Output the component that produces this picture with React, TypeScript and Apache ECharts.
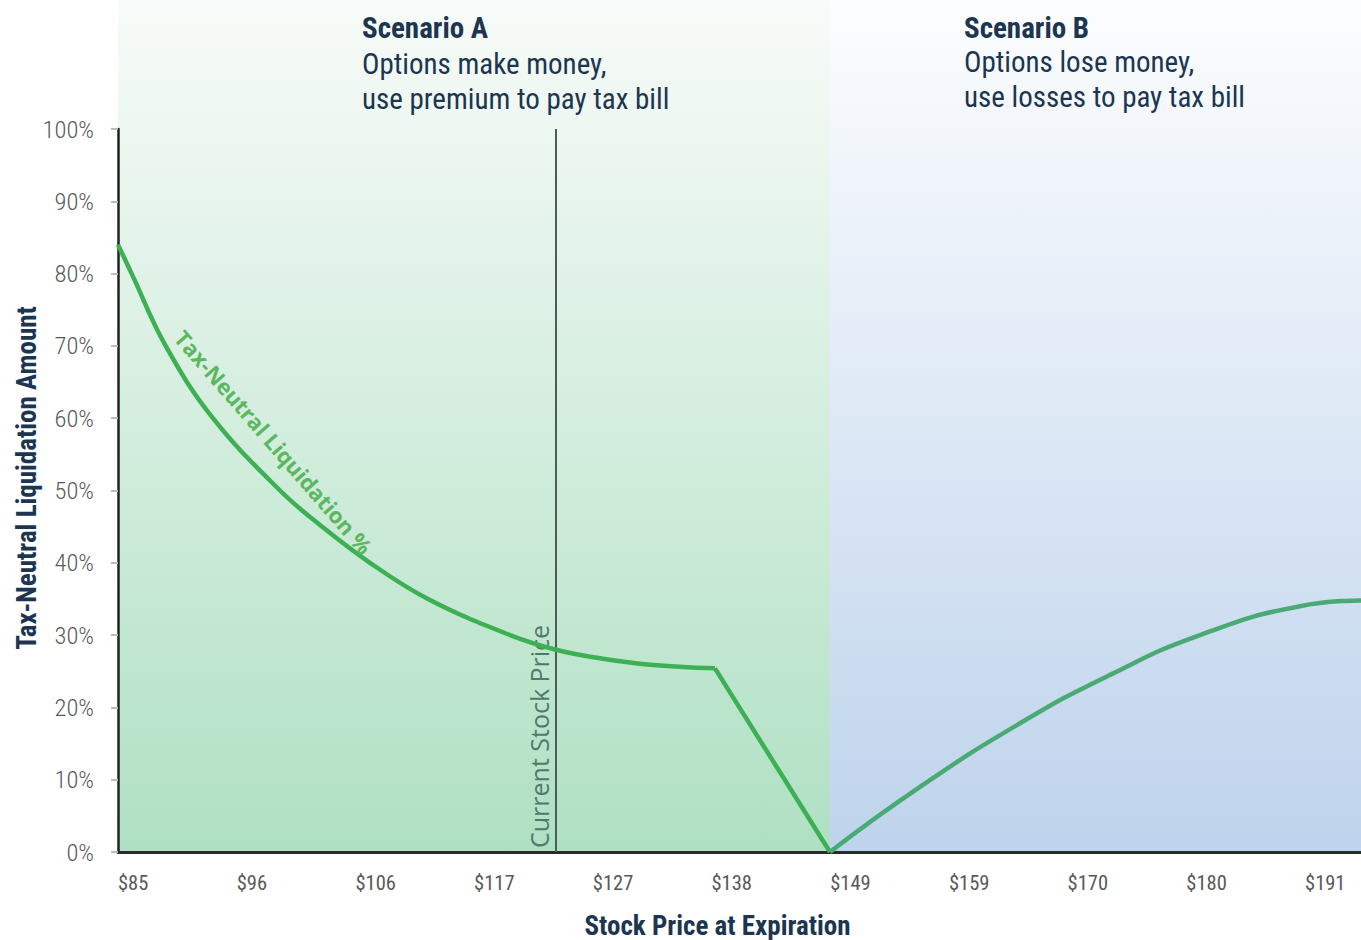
import React, { useEffect, useRef } from "react";
import * as echarts from "echarts";

// ---- data ----
const BASE_PRICE = 85;
const TICK_STEP = 10.6;
const MAX_PRICE = 196;
const xTickLabels = ["$85", "$96", "$106", "$117", "$127", "$138", "$149", "$159", "$170", "$180", "$191"];
const yTickValues = [0, 10, 20, 30, 40, 50, 60, 70, 80, 90, 100];

// Scenario A: curve (price, tax-neutral liquidation %)
const leftPrices = [85.0, 86.22, 89.26, 93.48, 99.47, 103.22, 107.5, 112.68, 120.01, 124.29, 128.04, 132.51, 138.31];
const leftValues = [84.0, 80.0, 70.0, 60.0, 50.0, 45.0, 40.0, 35.0, 30.0, 27.9, 26.8, 25.9, 25.4];
// drop segment
const dropPrices = [138.31, 148.58];
const dropValues = [25.4, 0];
// Scenario B: curve
const rightPrices = [148.58, 156.62, 165.55, 173.59, 181.62, 190.55, 196.0];
const rightValues = [0, 9.0, 17.8, 24.5, 30.0, 34.0, 34.8];

const currentStockPrice = 124.1;
const scenarioSplitPrice = 148.58;

const toXY = (prices: number[], values: number[]) => prices.map((p, i) => [p - BASE_PRICE, values[i]]);

const NAVY = "#1c3550";
const COND = "'Roboto Condensed', 'Liberation Sans Narrow', 'Arial Narrow', Roboto, sans-serif";

export default function App() {
  const ref = useRef<HTMLDivElement>(null);
  useEffect(() => {
    document.body.style.margin = "0";
    const chart = echarts.init(ref.current!, null, { renderer: "svg" });
    chart.setOption({
      animation: false,
      grid: { left: 118, right: 0, top: 129, bottom: 88, containLabel: false, outerBoundsMode: "none" },
      xAxis: {
        type: "value",
        min: 0,
        max: MAX_PRICE - BASE_PRICE,
        interval: TICK_STEP,
        name: "Stock Price at Expiration",
        nameLocation: "middle",
        nameGap: 60,
        nameTextStyle: { fontFamily: COND, fontWeight: "bold", fontSize: 27, color: NAVY, padding: [0, 44, 0, 0] },
        axisLine: { show: true, lineStyle: { color: "#2b2b2b", width: 3 } },
        axisTick: { show: false },
        splitLine: { show: false },
        axisLabel: {
          showMaxLabel: false,
          align: "left",
          margin: 20,
          fontFamily: COND,
          fontSize: 20.5,
          color: "#595959",
          formatter: (v: number) => xTickLabels[Math.round(v / TICK_STEP)] ?? "",
        },
      },
      yAxis: {
        type: "value",
        min: 0,
        max: 100,
        interval: 10,
        axisLine: { show: true, lineStyle: { color: "#222", width: 2.5 } },
        axisTick: { show: true, length: 7, inside: false, lineStyle: { color: "#bbb", width: 2 } },
        splitLine: { show: false },
        axisLabel: {
          margin: 24,
          fontFamily: COND,
          fontSize: 24.5,
          fontWeight: 300,
          color: "#595959",
          formatter: (v: number) => (yTickValues.includes(v) ? v + "%" : ""),
        },
      },
      series: [
        {
          type: "line",
          data: toXY(leftPrices, leftValues),
          smooth: 0.4,
          showSymbol: false,
          lineStyle: { color: "#3db054", width: 4.5 },
          z: 5,
          markLine: {
            symbol: "none",
            silent: true,
            lineStyle: { color: "#4a5d56", width: 2, type: "solid" },
            label: {
              show: true,
              position: "insideStartTop",
              formatter: "Current Stock Price",
              fontFamily: "'Open Sans', Lato, sans-serif",
              fontSize: 25,
              color: "#4f7a6b",
              distance: 4,
            },
            data: [{ xAxis: currentStockPrice - BASE_PRICE }],
          },
        },
        {
          type: "line",
          data: toXY(dropPrices, dropValues),
          showSymbol: false,
          lineStyle: { color: "#3db054", width: 4.5 },
          z: 5,
        },
        {
          type: "line",
          data: toXY(rightPrices, rightValues),
          smooth: 0.5,
          showSymbol: false,
          lineStyle: { color: "#4aaa74", width: 4.5 },
          z: 5,
        },
      ],
    });

    const x0 = chart.convertToPixel({ gridIndex: 0 }, [0, 0]) as number[];
    const xs = chart.convertToPixel({ gridIndex: 0 }, [scenarioSplitPrice - BASE_PRICE, 0]) as number[];
    const xe = chart.convertToPixel({ gridIndex: 0 }, [MAX_PRICE - BASE_PRICE, 0]) as number[];
    const bottom = x0[1];

    const txt = (x: number, y: number, text: string, bold: boolean) => ({
      type: "text",
      x,
      y,
      z: 10,
      style: {
        text,
        fill: NAVY,
        fontFamily: COND,
        fontWeight: bold ? "bold" : "normal",
        fontSize: 29,
        verticalAlign: "middle",
        align: "left",
      },
    });

    chart.setOption({
      graphic: [
        {
          type: "rect",
          z: -10,
          shape: { x: x0[0], y: 0, width: xs[0] - x0[0], height: bottom },
          style: {
            fill: new echarts.graphic.LinearGradient(0, 0, 0, 1, [
              { offset: 0, color: "#f8fbf9" },
              { offset: 1, color: "#afe0c3" },
            ]),
          },
        },
        {
          type: "rect",
          z: -10,
          shape: { x: xs[0], y: 0, width: xe[0] - xs[0], height: bottom },
          style: {
            fill: new echarts.graphic.LinearGradient(0, 0, 0, 1, [
              { offset: 0, color: "#fcfdfe" },
              { offset: 1, color: "#bed3ec" },
            ]),
          },
        },
        txt(362, 28, "Scenario A", true),
        txt(362, 64, "Options make money,", false),
        txt(362, 99, "use premium to pay tax bill", false),
        txt(964, 28, "Scenario B", true),
        txt(964, 62, "Options lose money,", false),
        txt(964, 97, "use losses to pay tax bill", false),
        {
          type: "text",
          x: 27,
          y: 478,
          z: 10,
          rotation: Math.PI / 2,
          style: {
            text: "Tax-Neutral Liquidation Amount",
            fill: NAVY,
            fontFamily: COND,
            fontWeight: "bold",
            fontSize: 27,
            align: "center",
            verticalAlign: "middle",
          },
        },
        {
          type: "text",
          x: 274,
          y: 442,
          z: 10,
          rotation: (-49 * Math.PI) / 180,
          style: {
            text: "Tax-Neutral Liquidation %",
            fill: "#5cb860",
            fontFamily: "'Open Sans', Lato, sans-serif",
            fontWeight: "bold",
            fontSize: 22,
            align: "center",
            verticalAlign: "middle",
          },
        },
      ],
    });

    return () => chart.dispose();
  }, []);
  return <div ref={ref} style={{ width: 1361, height: 940 }} />;
}
